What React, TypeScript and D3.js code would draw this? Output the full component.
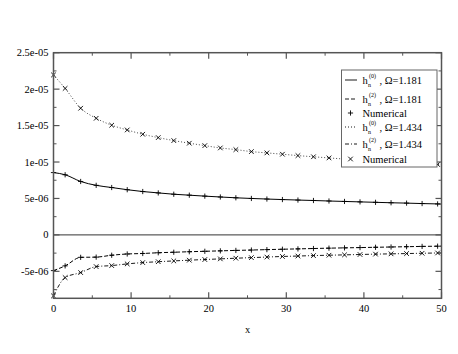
import * as d3 from 'd3';
import React from 'react';

// marker positions (x) shared by all four curves; lines run on to x=50
const xs = [0, 1.5, 3.5, 5.5, 7.5, 9.5, 11.5, 13.5, 15.5, 17.5, 19.5, 21.5, 23.5, 25.5,
  27.5, 29.5, 31.5, 33.5, 35.5, 37.5, 39.5, 41.5, 43.5, 45.5, 47.5, 49.5, 50];

// values in units of 1e-6
const h0_1181 = [8.55, 8.25, 7.33, 6.8, 6.5, 6.2, 5.95, 5.76, 5.58, 5.45, 5.32, 5.2, 5.09, 5.0,
  4.92, 4.85, 4.78, 4.72, 4.65, 4.59, 4.53, 4.47, 4.41, 4.36, 4.3, 4.25, 4.23];
const h2_1181 = [-4.9, -4.25, -3.08, -3.05, -2.79, -2.62, -2.55, -2.45, -2.38, -2.31, -2.25, -2.19, -2.13, -2.08,
  -2.02, -1.97, -1.92, -1.87, -1.82, -1.78, -1.74, -1.7, -1.66, -1.62, -1.58, -1.55, -1.54];
const h0_1434 = [21.95, 20.1, 17.38, 16.0, 15.05, 14.4, 13.81, 13.35, 12.94, 12.58, 12.25, 11.93, 11.7, 11.43,
  11.25, 11.07, 10.88, 10.72, 10.56, 10.41, 10.27, 10.13, 10.0, 9.88, 9.77, 9.66, 9.63];
const h2_1434 = [-8.37, -5.86, -5.17, -4.35, -4.21, -3.98, -3.8, -3.68, -3.57, -3.47, -3.38, -3.29, -3.2, -3.12,
  -3.04, -2.96, -2.9, -2.84, -2.79, -2.74, -2.69, -2.64, -2.6, -2.56, -2.52, -2.48, -2.47];

const xTicks = [0, 10, 20, 30, 40, 50];
const yTicks = [-5e-6, 0, 5e-6, 1e-5, 1.5e-5, 2e-5, 2.5e-5];
const yTickLabels = ['-5e-06', '0', '5e-06', '1e-05', '1.5e-05', '2e-05', '2.5e-05'];

const W = 458, H = 354;
const x = d3.scaleLinear().domain([0, 50]).range([53.5, 441.5]);
const y = d3.scaleLinear().domain([-8.7e-6, 2.5e-5]).range([298.3, 52.7]);

const series = [
  { vals: h0_1181, dash: '', marker: '+', color: '#000', width: 1 },
  { vals: h2_1181, dash: '4,2', marker: '+', color: '#000', width: 1 },
  { vals: h0_1434, dash: '1,2', marker: 'x', color: '#333', width: 0.9 },
  { vals: h2_1434, dash: '4,2,1,2', marker: 'x', color: '#000', width: 0.9 },
];

const line = d3.line<[number, number]>()
  .x(d => x(d[0]))
  .y(d => y(d[1] * 1e-6))
  .curve(d3.curveMonotoneX);

const Marker = ({ cx, cy, kind }: { cx: number; cy: number; kind: string }) => {
  const s = kind === '+' ? 2.6 : 2.3;
  const d = kind === '+'
    ? `M${cx - s},${cy}H${cx + s}M${cx},${cy - s}V${cy + s}`
    : `M${cx - s},${cy - s}L${cx + s},${cy + s}M${cx - s},${cy + s}L${cx + s},${cy - s}`;
  return <path d={d} stroke="#000" strokeWidth={0.9} fill="none" />;
};

const font = "'Liberation Serif', 'Times New Roman', serif";

const HLabel = ({ tx, ty, sup, omega }: { tx: number; ty: number; sup: string; omega: string }) => (
  <g style={{ fontFamily: font }} fill="#000">
    <text x={tx} y={ty + 4} fontSize={10.5}>h</text>
    <text x={tx + 5.5} y={ty + 6.5} fontSize={6}>n</text>
    <text x={tx + 6.5} y={ty - 2.5} fontSize={6}>{sup}</text>
    <text x={tx + 17} y={ty + 4} fontSize={10.5}>{`, Ω=${omega}`}</text>
  </g>
);

export default function App() {
  const x0 = x(0), x1 = x(50), yTop = y(2.5e-5), yBot = y(-8.7e-6);
  const minorX = [5, 15, 25, 35, 45];
  const minorY = [-7.5e-6, -2.5e-6, 2.5e-6, 7.5e-6, 1.25e-5, 1.75e-5, 2.25e-5];

  const legendRows = [
    { cy: 80, dash: '', sup: '(0)', omega: '1.181' },
    { cy: 99, dash: '4,2', sup: '(2)', omega: '1.181' },
    { cy: 113, marker: '+' },
    { cy: 127, dash: '1,2', sup: '(0)', omega: '1.434' },
    { cy: 144, dash: '4,2,1,2', sup: '(2)', omega: '1.434' },
    { cy: 159, marker: 'x' },
  ];

  return (
    <svg width={W} height={H} style={{ position: 'absolute', left: 0, top: 0, background: '#fff' }}>
      {/* zero line */}
      <line x1={x0} x2={x1} y1={y(0)} y2={y(0)} stroke="#333" strokeWidth={1} />

      {series.map((s, i) => (
        <g key={i}>
          <path d={line(xs.map((xv, j) => [xv, s.vals[j]] as [number, number])) || ''}
            fill="none" stroke={s.color} strokeWidth={s.width} strokeDasharray={s.dash || undefined} />
          {xs.slice(0, -1).map((xv, j) => (
            <Marker key={j} cx={x(xv)} cy={y(s.vals[j] * 1e-6)} kind={s.marker} />
          ))}
        </g>
      ))}

      {/* frame and ticks */}
      <rect x={x0} y={yTop} width={x1 - x0} height={yBot - yTop} fill="none" stroke="#555" strokeWidth={1.5} />
      {xTicks.map(t => (
        <g key={'mx' + t} stroke="#555" strokeWidth={1.2}>
          <line x1={x(t)} x2={x(t)} y1={yBot} y2={yBot - 6} />
          <line x1={x(t)} x2={x(t)} y1={yTop} y2={yTop + 6} />
        </g>
      ))}
      {minorX.map(t => (
        <g key={'nx' + t} stroke="#555" strokeWidth={1}>
          <line x1={x(t)} x2={x(t)} y1={yBot} y2={yBot - 3} />
          <line x1={x(t)} x2={x(t)} y1={yTop} y2={yTop + 3} />
        </g>
      ))}
      {yTicks.map(t => (
        <g key={'my' + t} stroke="#555" strokeWidth={1.2}>
          <line x1={x0} x2={x0 + 6} y1={y(t)} y2={y(t)} />
          <line x1={x1} x2={x1 - 6} y1={y(t)} y2={y(t)} />
        </g>
      ))}
      {minorY.map(t => (
        <g key={'ny' + t} stroke="#555" strokeWidth={1}>
          <line x1={x0} x2={x0 + 3} y1={y(t)} y2={y(t)} />
          <line x1={x1} x2={x1 - 3} y1={y(t)} y2={y(t)} />
        </g>
      ))}

      {/* tick labels */}
      <g style={{ fontFamily: font }} fontSize={10.5} fill="#000">
        {xTicks.map(t => (
          <text key={'lx' + t} x={x(t)} y={yBot + 14} textAnchor="middle">{t}</text>
        ))}
        {yTicks.map((t, i) => (
          <text key={'ly' + t} x={x0 - 5} y={y(t) + 3.5} textAnchor="end">{yTickLabels[i]}</text>
        ))}
        <text x={(x0 + x1) / 2} y={333} textAnchor="middle">x</text>
      </g>

      {/* legend */}
      <rect x={341.5} y={70} width={95.5} height={97} fill="#fff" stroke="#666" strokeWidth={1} />
      {legendRows.map((r, i) => (
        <g key={'lg' + i}>
          {r.marker ? (
            <>
              <Marker cx={350.5} cy={r.cy} kind={r.marker} />
              <text x={362.5} y={r.cy + 4} style={{ fontFamily: font }} fontSize={10.5}>Numerical</text>
            </>
          ) : (
            <>
              <line x1={345} x2={357} y1={r.cy} y2={r.cy} stroke="#000" strokeWidth={0.9}
                strokeDasharray={r.dash || undefined} />
              <HLabel tx={362.5} ty={r.cy} sup={r.sup!} omega={r.omega!} />
            </>
          )}
        </g>
      ))}
    </svg>
  );
}
